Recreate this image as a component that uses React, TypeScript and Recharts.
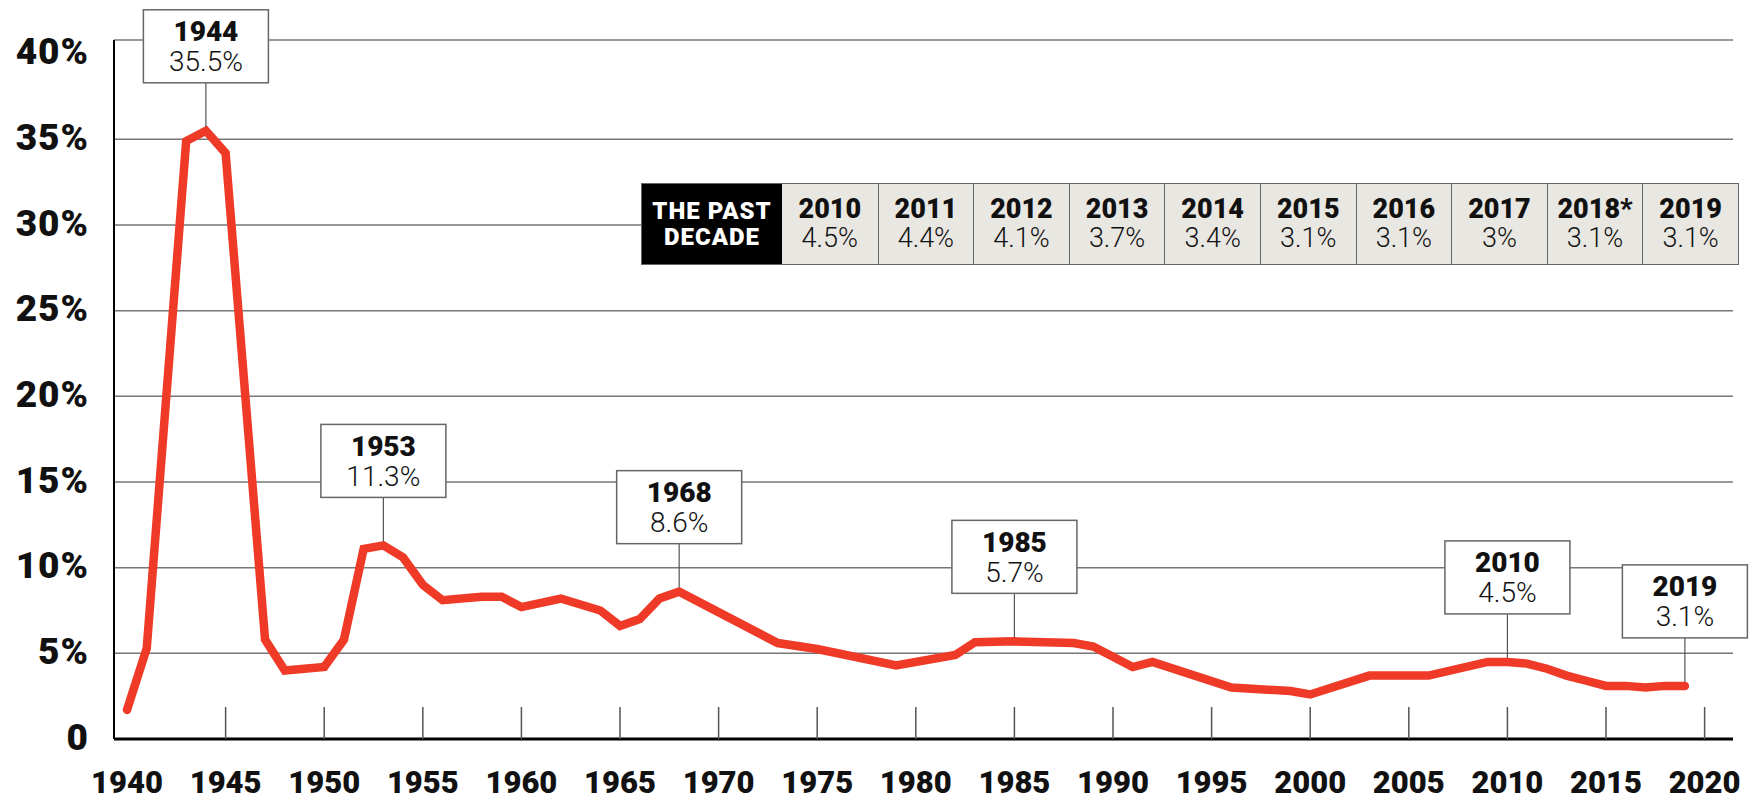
import React from 'react';
import { LineChart, Line, XAxis, YAxis, CartesianGrid, ReferenceDot } from 'recharts';

// vertices of the line
const YEARS = [
  1940, 1941, 1943, 1944, 1945, 1947, 1948, 1950, 1951, 1952,
  1953, 1954, 1955, 1956, 1958, 1959, 1960, 1962, 1964, 1965,
  1966, 1967, 1968, 1973, 1975, 1979, 1982, 1983, 1985, 1988,
  1989, 1991, 1992, 1996, 1999, 2000, 2003, 2006, 2009, 2010,
  2011, 2012, 2013, 2014, 2015, 2016, 2017, 2018, 2019,
];
const RATES = [
  1.7, 5.3, 34.9, 35.5, 34.2, 5.8, 4.0, 4.2, 5.8, 11.1,
  11.3, 10.6, 9.0, 8.1, 8.3, 8.3, 7.7, 8.2, 7.5, 6.6,
  7.0, 8.2, 8.6, 5.6, 5.25, 4.3, 4.9, 5.65, 5.7, 5.6,
  5.4, 4.2, 4.5, 3.0, 2.8, 2.6, 3.7, 3.7, 4.5, 4.5,
  4.4, 4.1, 3.7, 3.4, 3.1, 3.1, 3.0, 3.1, 3.1,
];

const X_TICKS = [1940, 1945, 1950, 1955, 1960, 1965, 1970, 1975, 1980, 1985, 1990, 1995, 2000, 2005, 2010, 2015, 2020];
const Y_TICKS = [0, 5, 10, 15, 20, 25, 30, 35, 40];
const GRID_VALUES = [5, 10, 15, 20, 25, 30, 35];
const Y_MAX = 40.8;
const X_DOMAIN: [number, number] = [1939.34, 2021.44];

const CALLOUT_YEARS = [1944, 1953, 1968, 1985, 2010, 2019];

const DECADE_YEARS = ['2010', '2011', '2012', '2013', '2014', '2015', '2016', '2017', '2018*', '2019'];
const DECADE_RATES = ['4.5%', '4.4%', '4.1%', '3.7%', '3.4%', '3.1%', '3.1%', '3%', '3.1%', '3.1%'];

const data = YEARS.map((year, i) => ({ year, rate: RATES[i] }));

const FONT = 'Roboto, "Noto Sans", sans-serif';
const RED = '#ee3a26';

const XTick = (props: any) => {
  const { x, y, payload } = props;
  return (
    <g>
      {payload.value !== 1940 && (
        <line x1={x} x2={x} y1={y - 32} y2={y} stroke="#555" strokeWidth={1.5} />
      )}
      <text
        x={x}
        y={y + 43}
        textAnchor="middle"
        dominantBaseline="central"
        fontFamily={FONT}
        fontSize={31}
        fontWeight={900}
        fill="#111"
      >
        {payload.value}
      </text>
    </g>
  );
};

const YTick = (props: any) => {
  const { x, y, payload } = props;
  return (
    <text
      x={x}
      y={y - 2}
      textAnchor="end"
      dominantBaseline="central"
      fontFamily={FONT}
      fontSize={37}
      fontWeight={900}
      letterSpacing={1}
      fill="#111"
    >
      {payload.value === 0 ? '0' : `${payload.value}%`}
    </text>
  );
};

const Callout = (props: any) => {
  const { cx, cy, year, label } = props;
  if (cx == null || cy == null) return null;
  const bottom = cy - 48;
  const top = bottom - 73;
  return (
    <g>
      <line x1={cx} x2={cx} y1={bottom} y2={cy - 4} stroke="#555" strokeWidth={1.2} />
      <rect x={cx - 62.5} y={top} width={125} height={73} fill="#fff" stroke="#666" strokeWidth={1.5} />
      <text x={cx} y={top + 22} textAnchor="middle" dominantBaseline="central"
        fontFamily={FONT} fontSize={28} fontWeight={900} fill="#111">
        {year}
      </text>
      <text x={cx} y={top + 52} textAnchor="middle" dominantBaseline="central"
        fontFamily={FONT} fontSize={28} fontWeight={300} fill="#111">
        {label}
      </text>
    </g>
  );
};

const DecadeTable = () => (
  <div
    style={{
      position: 'absolute',
      left: 641,
      top: 183,
      height: 82,
      display: 'flex',
      border: '1.5px solid #666',
      boxSizing: 'border-box',
      fontFamily: FONT,
    }}
  >
    <div
      style={{
        width: 140,
        background: '#000',
        color: '#fff',
        fontWeight: 900,
        fontSize: 24,
        letterSpacing: 1,
        lineHeight: '26px',
        display: 'flex',
        flexDirection: 'column',
        alignItems: 'center',
        justifyContent: 'center',
      }}
    >
      <span>THE PAST</span>
      <span>DECADE</span>
    </div>
    {DECADE_YEARS.map((y, i) => (
      <div
        key={y}
        style={{
          width: 95.6,
          background: '#e9e7e2',
          borderLeft: i === 0 ? 'none' : '1px solid #666',
          boxSizing: 'border-box',
          display: 'flex',
          flexDirection: 'column',
          alignItems: 'center',
          justifyContent: 'center',
          color: '#111',
          fontSize: 27,
          lineHeight: '29px',
        }}
      >
        <span style={{ fontWeight: 900 }}>{y}</span>
        <span style={{ fontWeight: 300 }}>{DECADE_RATES[i]}</span>
      </div>
    ))}
  </div>
);

export default function App() {
  return (
    <div style={{ position: 'relative', width: 1760, height: 799, background: '#fff' }}>
      <style>{'body{margin:0}'}</style>
      <LineChart width={1760} height={799} data={data} margin={{ top: 40, right: 27, bottom: 0, left: 0 }}>
        <CartesianGrid
          vertical={false}
          horizontalValues={[...GRID_VALUES, Y_MAX]}
          stroke="#777"
          strokeWidth={1.5}
        />
        <XAxis
          dataKey="year"
          type="number"
          domain={X_DOMAIN}
          allowDataOverflow
          ticks={X_TICKS}
          interval={0}
          height={60}
          tickSize={0}
          tickMargin={0}
          tickLine={false}
          axisLine={{ stroke: '#000', strokeWidth: 3 }}
          tick={<XTick />}
        />
        <YAxis
          type="number"
          domain={[0, Y_MAX]}
          allowDataOverflow
          ticks={Y_TICKS}
          interval={0}
          width={114}
          tickSize={0}
          tickMargin={25}
          tickLine={false}
          axisLine={{ stroke: '#000', strokeWidth: 2 }}
          tick={<YTick />}
        />
        <Line
          type="linear"
          dataKey="rate"
          stroke={RED}
          strokeWidth={8.5}
          strokeLinecap="round"
          strokeLinejoin="miter"
          dot={false}
          activeDot={false}
          isAnimationActive={false}
        />
        {CALLOUT_YEARS.map((yr) => {
          const v = RATES[YEARS.indexOf(yr)];
          return (
            <ReferenceDot
              key={yr}
              x={yr}
              y={v}
              r={0}
              ifOverflow="visible"
              shape={(p: any) => <Callout {...p} year={yr} label={`${v}%`} />}
            />
          );
        })}
      </LineChart>
      <DecadeTable />
    </div>
  );
}
